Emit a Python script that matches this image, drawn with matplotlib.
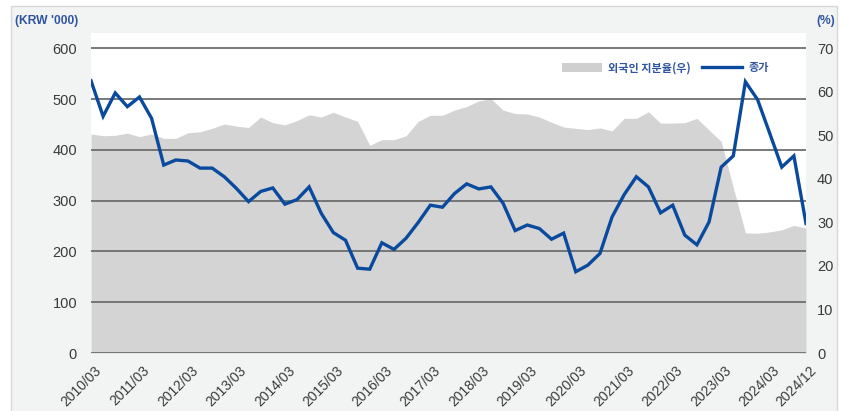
import matplotlib
matplotlib.use("Agg")
import matplotlib.pyplot as plt
import matplotlib.patches as patches
import matplotlib.transforms as mtransforms
from matplotlib.lines import Line2D
import numpy as np

plt.rcParams['font.family'] = ['Liberation Sans', 'Noto Sans CJK KR', 'DejaVu Sans']

# Quarterly close (KRW '000) and foreign ownership (%), 2010/03 - 2024/12
quarters = [f"{y}/{m:02d}" for y in range(2010, 2025) for m in (3, 6, 9, 12)]
price = [536, 466, 512, 485, 504, 462, 370, 380, 378, 364, 364, 347,
         324, 298, 318, 325, 293, 302, 327, 275, 237, 222, 167, 165,
         217, 204, 226, 257, 291, 287, 314, 333, 323, 327, 295, 241,
         252, 245, 224, 236, 160, 173, 196, 268, 312, 347, 327, 276,
         291, 232, 213, 258, 366, 388, 534, 499, 433, 366, 388, 255]
foreign = [50.3, 49.9, 50.0, 50.5, 49.7, 50.3, 49.3, 49.3, 50.6, 50.8, 51.6, 52.6,
           52.1, 51.8, 54.2, 52.9, 52.4, 53.4, 54.7, 54.2, 55.3, 54.2, 53.2, 47.7,
           49.0, 49.0, 49.9, 53.2, 54.6, 54.6, 55.8, 56.6, 57.9, 58.4, 55.8, 55.0,
           54.9, 54.2, 53.0, 51.9, 51.6, 51.3, 51.7, 51.0, 53.9, 53.9, 55.4, 52.8,
           52.8, 52.9, 53.9, 51.2, 48.6, 38.0, 27.6, 27.5, 27.8, 28.3, 29.3, 28.7]
tick_labels = [q for q in quarters if q.endswith("/03")] + ["2024/12"]

BLUE = "#0a4a9e"
LABEL_BLUE = "#2f55a0"
TEXT = "#3a3a3a"

fig = plt.figure(figsize=(8.47, 4.11), dpi=100, facecolor="white")
fig.patches.append(patches.Rectangle((11 / 847, -0.02), 826 / 847, 1.02 - 6 / 411,
                                     transform=fig.transFigure, facecolor="#f2f3f3",
                                     edgecolor="#d6d8d8", lw=1.0, zorder=-10))

ax2 = fig.add_axes([91 / 847, 58 / 411, 715 / 847, 320 / 411])
ax = ax2.twinx()
ax.set_zorder(ax2.get_zorder() + 1)
ax.patch.set_visible(False)
ax2.set_facecolor("white")

x = np.arange(len(quarters))

# ownership area on the right scale
ax2.fill_between(x, foreign, 0, color="#d4d4d4", lw=0)
ax2.set_ylim(0, 73.5)
ax2.set_yticks(range(0, 71, 10))
ax2.set_xlim(0, len(quarters) - 1)

# price line on the left scale
ax.set_ylim(0, 630)
ax.set_yticks(range(0, 601, 100))
ax.grid(axis="y", color="#6e6e6e", lw=1.3)
ax.set_axisbelow(True)
ax.plot(x, price, color=BLUE, lw=2.4, solid_joinstyle="miter", zorder=3)

for a in (ax, ax2):
    for s in a.spines.values():
        s.set_visible(False)

ax.yaxis.set_ticks_position("left")
ax.yaxis.set_label_position("left")
ax.tick_params(axis="y", length=0, pad=10, labelsize=10.5, labelcolor=TEXT)
ax2.yaxis.set_ticks_position("right")
ax2.tick_params(axis="y", length=0, pad=8, labelsize=10.5, labelcolor=TEXT)

tick_pos = [quarters.index(t) for t in tick_labels]
ax2.set_xticks(tick_pos)
ax2.set_xticklabels(tick_labels, rotation=45, ha="right", va="center",
                    rotation_mode="anchor", fontsize=10, color=TEXT)
ax2.tick_params(axis="x", length=0, pad=11)
offset = mtransforms.ScaledTranslation(8 / 100, 0, fig.dpi_scale_trans)
for lbl in ax2.get_xticklabels():
    lbl.set_transform(lbl.get_transform() + offset)

fig.text(15 / 847, 1 - 21 / 411, "(KRW '000)", color=LABEL_BLUE, fontsize=8.7,
         fontweight="bold", va="center", ha="left")
fig.text(816 / 847, 1 - 21 / 411, "(%)", color=LABEL_BLUE, fontsize=8.7,
         fontweight="bold", va="center", ha="left")

handles = [patches.Patch(facecolor="#cfcfcf", edgecolor="none"),
           Line2D([], [], color=BLUE, lw=2.4)]
leg = fig.legend(handles, ["외국인 지분율(우)", "종가"], ncol=2, frameon=False,
                 loc="center left", bbox_to_anchor=(556 / 847, 1 - 68 / 411),
                 borderpad=0, handlelength=3.6, handleheight=0.9,
                 handletextpad=0.6, columnspacing=1.0,
                 prop={"family": ["Noto Sans CJK KR"], "size": 8, "weight": "bold"})
for t in leg.get_texts():
    t.set_color(LABEL_BLUE)

fig.savefig("out.png", dpi=100, facecolor=fig.get_facecolor())
